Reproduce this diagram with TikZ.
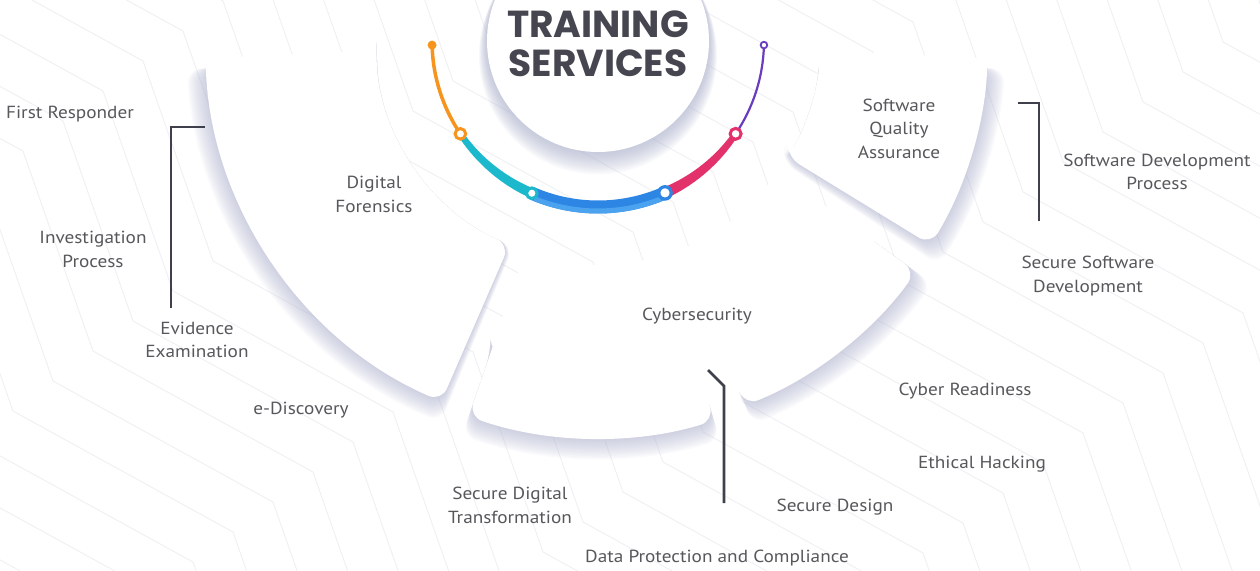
\documentclass[tikz,border=0pt]{standalone}
\usepackage{fontspec}
\setmainfont{PT Sans}[FakeStretch=1.1]
\newfontfamily\titlefont{Poppins}
\usetikzlibrary{calc}
\definecolor{txt}{HTML}{58585C}
\definecolor{ttl}{HTML}{45464F}
\definecolor{brk}{HTML}{3E404B}
\definecolor{shd}{HTML}{A9AECD}
\definecolor{bgl}{HTML}{F0F0F4}
\definecolor{corange}{HTML}{F7941D}
\definecolor{ccyan}{HTML}{1CB9CC}
\definecolor{cblue}{HTML}{2E86E4}
\definecolor{cbluel}{HTML}{4BA3F0}
\definecolor{cpink}{HTML}{E3316B}
\definecolor{cpurple}{HTML}{6A3DBF}
\begin{document}
\begin{tikzpicture}[x=1pt,y=1pt,
  lbl/.style={font=\fontsize{17.5}{23.5}\selectfont, text=txt, align=center, inner sep=0pt},
  ttlstyle/.style={font=\titlefont\bfseries\fontsize{37.6}{40}\selectfont, text=ttl, inner sep=0pt},
  bracket/.style={brk, line width=2.6pt},
  bgline/.style={bgl, line width=0.9pt},
  shadowlayer/.style={fill=shd, opacity=0.055, rounded corners=14pt},
  piecefill/.style={fill=white, rounded corners=14pt},
]
\useasboundingbox (0,0) rectangle (1260,-570);
\clip (0,0) rectangle (1260,-570);
\fill[white] (0,0) rectangle (1260,-570);

% background zigzag lines
\foreach \i in {-8,...,22} {
  \draw[bgline] (\i*40-847, \i*30+812)
    \foreach \k in {1,...,8} { -- ++(70,-200) -- ++(220,-121) };
}

\coordinate (C) at (598,-41);
\begin{scope}[shift={(C)}]
  % shadows of the pieces
  \foreach \k in {1,...,12} {
    % Digital Forensics piece
    \fill[shadowlayer] (184:222) -- (184:{393+1.6*\k})
      arc[start angle=184, end angle={246.5+0.09*\k}, radius={393+1.6*\k}]
      -- ({246.5+0.09*\k}:222) arc[start angle={246.5+0.09*\k}, end angle=184, radius=222] -- cycle;
    % Cybersecurity piece, left part
    \fill[shadowlayer] (251:330) -- (251:{397+1.7*\k})
      arc[start angle=251, end angle=287, radius={397+1.7*\k}]
      -- (287:330) arc[start angle=287, end angle=251, radius=330] -- cycle;
    % Cybersecurity piece, right part
    \fill[shadowlayer] (292:330) -- (292:{393+1.7*\k})
      arc[start angle=292, end angle=324, radius={393+1.7*\k}]
      -- (324:330) arc[start angle=324, end angle=292, radius=330] -- cycle;
    % Software Quality Assurance piece
    \fill[shadowlayer] ({328.5-0.15*\k}:222) -- ({328.5-0.15*\k}:{390+1.5*\k})
      arc[start angle={328.5-0.15*\k}, end angle=356, radius={390+1.5*\k}]
      -- (356:222) arc[start angle=356, end angle={328.5-0.15*\k}, radius=222] -- cycle;
  }
  % white pieces
  \fill[piecefill] (182.5:222) -- (182.5:393) arc[start angle=182.5, end angle=246.5, radius=393]
    -- (246.5:222) arc[start angle=246.5, end angle=182.5, radius=222] -- cycle;
  \fill[piecefill] (251:222) -- (251:397) arc[start angle=251, end angle=287, radius=397]
    -- (287:368) arc[start angle=287, end angle=292, radius=368]
    -- (292:393) arc[start angle=292, end angle=324, radius=393]
    -- (324:222) arc[start angle=324, end angle=251, radius=222] -- cycle;
  \fill[piecefill] (328.5:222) -- (328.5:390) arc[start angle=328.5, end angle=357.5, radius=390]
    -- (357.5:222) arc[start angle=357.5, end angle=328.5, radius=222] -- cycle;

  % title circle with its shadow
  \foreach \k in {1,...,16} {
    \fill[shd, opacity=0.05] (0,{-0.9*\k}) circle ({111+0.5*\k});
  }
  \fill[white] (0,0) circle (111);

  % coloured arc
  \draw[corange, line width=3.5pt] (181.4:166) arc[start angle=181.4, end angle=214, radius=166];
  \fill[ccyan] plot[domain=214:246.5, samples=25] (\x:{169+2*(\x-214)/32.5})
     -- plot[domain=246.5:214, samples=25] (\x:{163-2*(\x-214)/32.5}) -- cycle;
  \draw[cblue, line width=13pt] (246.5:166) arc[start angle=246.5, end angle=293.8, radius=166];
  \draw[cbluel, line width=5pt] (248:170) arc[start angle=248, end angle=292, radius=170];
  \fill[cpink] plot[domain=293.8:326, samples=25] (\x:{171.5-2.5*(\x-293.8)/32.2})
     -- plot[domain=326:293.8, samples=25] (\x:{160.5+2.5*(\x-293.8)/32.2}) -- cycle;
  \draw[cpurple, line width=2.2pt] (326:166) arc[start angle=326, end angle=358.6, radius=166];

  \fill[corange] (181.4:166) circle (4.5);
  \filldraw[draw=corange, fill=white, line width=3pt] (214:166) circle (5.3);
  \filldraw[draw=ccyan, fill=white, line width=3pt] (246.5:166) circle (5.3);
  \filldraw[draw=cblue, fill=white, line width=3.2pt] (293.8:166) circle (6.2);
  \filldraw[draw=cpink, fill=white, line width=3pt] (326:166) circle (5.5);
  \filldraw[draw=cpurple, fill=white, line width=1.8pt] (358.6:166) circle (3.3);
\end{scope}

% title
\node[ttlstyle] (t1) at (598,-24) {TRAINING};
\node[ttlstyle] (t2) at (598,-63) {SERVICES};

% labels
\node[lbl] (fr)  at (70,-114)   {First Responder};
\node[lbl] (ip)  at (93,-249.5) {Investigation\\Process};
\node[lbl] (ee)  at (197,-340)  {Evidence\\Examination};
\node[lbl] (ed)  at (301,-410)  {e-Discovery};
\node[lbl] (df)  at (374,-194.5){Digital\\Forensics};
\node[lbl] (sqa) at (899,-128.5){Software\\Quality\\Assurance};
\node[lbl] (sdp) at (1157,-172) {Software Development\\Process};
\node[lbl] (ssd) at (1088,-276) {Secure Software\\Development};
\node[lbl] (cs)  at (697,-316)  {Cybersecurity};
\node[lbl] (cr)  at (965,-391)  {Cyber Readiness};
\node[lbl] (eh)  at (982,-464)  {Ethical Hacking};
\node[lbl] (sd)  at (835,-507)  {Secure Design};
\node[lbl] (sdt) at (510,-505.5){Secure Digital\\Transformation};
\node[lbl] (dpc) at (717,-558)  {Data Protection and Compliance};

% brackets
\coordinate (la) at (205,-127);
\coordinate (lb) at (171,-127);
\coordinate (lc) at (171,-308);
\draw[bracket] (la) -- (lb) -- (lc);
\coordinate (ra) at (1018,-103);
\coordinate (rb) at (1039,-103);
\coordinate (rc) at (1039,-221);
\draw[bracket] (ra) -- (rb) -- (rc);
\coordinate (ba) at (708,-370);
\coordinate (bb) at (724,-386);
\coordinate (bc) at (724,-503);
\draw[bracket] (ba) -- (bb) -- (bc);
\end{tikzpicture}
\end{document}
